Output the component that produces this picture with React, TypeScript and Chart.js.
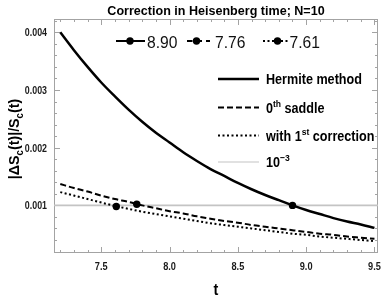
import React, { useEffect, useRef } from 'react';
import { Chart, registerables } from 'chart.js';

Chart.register(...registerables);

// ---------- data ----------
const T = [7.2, 7.3, 7.4, 7.5, 7.6, 7.7, 7.8, 7.9, 8.0, 8.1, 8.2, 8.3, 8.4, 8.5, 8.6, 8.7, 8.8, 8.9, 9.0, 9.1, 9.2, 9.3, 9.4, 9.5];
const HERMITE = [0.004, 0.00369, 0.0034, 0.00313, 0.00289, 0.00266, 0.00245, 0.00226, 0.00209, 0.00192, 0.00177, 0.00163, 0.00151, 0.00139, 0.00128, 0.00118, 0.00109, 0.001, 0.00092, 0.00085, 0.00078, 0.00072, 0.00067, 0.00061];
const SADDLE0 = [0.00137, 0.0013, 0.00124, 0.00117, 0.00111, 0.00106, 0.001, 0.00095, 0.0009, 0.00086, 0.00081, 0.00077, 0.00073, 0.0007, 0.00066, 0.00063, 0.0006, 0.00057, 0.00054, 0.00051, 0.00049, 0.00046, 0.00044, 0.00042];
const CORR1 = [0.00123, 0.00117, 0.00111, 0.00105, 0.00099, 0.00094, 0.00089, 0.00085, 0.00081, 0.00077, 0.00073, 0.00069, 0.00066, 0.00063, 0.0006, 0.00057, 0.00054, 0.00051, 0.00049, 0.00046, 0.00044, 0.00042, 0.0004, 0.00038];
const REF_T = [7.0, 9.7];
const REF_Y = [0.001, 0.001];
const MARK_T = [8.9, 7.76, 7.61];
const MARK_Y = [0.001, 0.00102, 0.00098];
const MARK_LABELS = ['8.90', '7.76', '7.61'];

const TITLE = 'Correction in Heisenberg time; N=10';
const X_TITLE = 't';

const X_MIN = 7.154;
const X_MAX = 9.526;
const Y_MIN = 0.000175;
const Y_MAX = 0.00423;

const X_TICKS = [7.5, 8.0, 8.5, 9.0, 9.5];
const X_TICK_LABELS = ['7.5', '8.0', '8.5', '9.0', '9.5'];
const X_MINOR = [7.2, 7.3, 7.4, 7.6, 7.7, 7.8, 7.9, 8.1, 8.2, 8.3, 8.4, 8.6, 8.7, 8.8, 8.9, 9.1, 9.2, 9.3, 9.4];
const Y_TICKS = [0.001, 0.002, 0.003, 0.004];
const Y_TICK_LABELS = ['0.001', '0.002', '0.003', '0.004'];
const Y_MINOR = [0.0002, 0.0004, 0.0006, 0.0008, 0.0012, 0.0014, 0.0016, 0.0018, 0.0022, 0.0024, 0.0026, 0.0028, 0.0032, 0.0034, 0.0036, 0.0038, 0.0042];

// ---------- styles ----------
const FAM = '"Liberation Sans", Arial, sans-serif';
const BLACK = '#000000';
const FRAME = '#a3a3a3';
const REF_COLOR = '#c4c4c4';
const DASH_SADDLE = [6, 3];
const DASH_CORR = [2, 2.5];

type Seg = { t: string; s?: 'sub' | 'sup' };

function drawRich(ctx: CanvasRenderingContext2D, segs: Seg[], x: number, y: number, size: number, weight: string, align: 'left' | 'center' | 'right', sx = 1) {
  const fontFor = (s?: string) => `${weight} ${s ? size * 0.68 : size}px ${FAM}`;
  let w = 0;
  for (const g of segs) {
    ctx.font = fontFor(g.s);
    w += ctx.measureText(g.t).width;
  }
  w *= sx;
  const x0 = align === 'center' ? x - w / 2 : align === 'right' ? x - w : x;
  ctx.save();
  ctx.translate(x0, y);
  ctx.scale(sx, 1);
  ctx.textAlign = 'left';
  ctx.textBaseline = 'alphabetic';
  let cx = 0;
  for (const g of segs) {
    ctx.font = fontFor(g.s);
    const dy = g.s === 'sub' ? size * 0.28 : g.s === 'sup' ? -size * 0.4 : 0;
    ctx.fillText(g.t, cx, dy);
    cx += ctx.measureText(g.t).width;
  }
  ctx.restore();
}

const LEGEND_ROWS: { segs: Seg[]; color: string; width: number; dash: number[] }[] = [
  { segs: [{ t: 'Hermite method' }], color: BLACK, width: 2.5, dash: [] },
  { segs: [{ t: '0' }, { t: 'th', s: 'sup' }, { t: ' saddle' }], color: BLACK, width: 2, dash: DASH_SADDLE },
  { segs: [{ t: 'with 1' }, { t: 'st', s: 'sup' }, { t: ' correction' }], color: BLACK, width: 2, dash: DASH_CORR },
  { segs: [{ t: '10' }, { t: '\u22123', s: 'sup' }], color: REF_COLOR, width: 1.2, dash: [] },
];

const decorPlugin = {
  id: 'decor',
  beforeDatasetsDraw(chart: any) {
    const { ctx, chartArea: ca, scales } = chart;
    const x = scales.x;
    const y = scales.y;
    ctx.save();
    ctx.strokeStyle = FRAME;
    ctx.lineWidth = 1;
    ctx.strokeRect(ca.left + 0.5, ca.top + 0.5, ca.right - ca.left - 1, ca.bottom - ca.top - 1);
    const tick = (x0: number, y0: number, x1: number, y1: number) => {
      ctx.beginPath();
      ctx.moveTo(x0, y0);
      ctx.lineTo(x1, y1);
      ctx.stroke();
    };
    const drawX = (vals: number[], len: number) => {
      for (const v of vals) {
        const px = Math.round(x.getPixelForValue(v)) + 0.5;
        tick(px, ca.bottom, px, ca.bottom - len);
        tick(px, ca.top, px, ca.top + len);
      }
    };
    const drawY = (vals: number[], len: number) => {
      for (const v of vals) {
        const py = Math.round(y.getPixelForValue(v)) + 0.5;
        if (py < ca.top || py > ca.bottom) continue;
        tick(ca.left, py, ca.left + len, py);
        tick(ca.right, py, ca.right - len, py);
      }
    };
    drawX(X_TICKS, 6);
    drawX(X_MINOR, 3);
    drawY(Y_TICKS, 6);
    drawY(Y_MINOR, 3);
    ctx.restore();
  },
  afterDraw(chart: any) {
    const { ctx, chartArea: ca, scales } = chart;
    const x = scales.x;
    const y = scales.y;
    ctx.save();
    ctx.fillStyle = '#1a1a1a';
    // tick labels
    Y_TICKS.forEach((v, i) => {
      drawRich(ctx, [{ t: Y_TICK_LABELS[i] }], ca.left - 7, y.getPixelForValue(v) + 4, 11.5, 'bold', 'right', 0.77);
    });
    X_TICKS.forEach((v, i) => {
      drawRich(ctx, [{ t: X_TICK_LABELS[i] }], x.getPixelForValue(v), ca.bottom + 17, 11.5, 'bold', 'center', 0.8);
    });
    // title
    ctx.fillStyle = BLACK;
    drawRich(ctx, [{ t: TITLE }], (ca.left + ca.right) / 2, 14.5, 13.5, 'bold', 'center', 0.93);
    // x title
    drawRich(ctx, [{ t: X_TITLE }], (ca.left + ca.right) / 2, 295, 16, 'bold', 'center', 0.9);
    // y title
    ctx.save();
    ctx.translate(18.5, (ca.top + ca.bottom) / 2 + 3);
    ctx.rotate(-Math.PI / 2);
    drawRich(ctx, [{ t: '|\u0394S' }, { t: 'c', s: 'sub' }, { t: '(t)|/S' }, { t: 'c', s: 'sub' }, { t: '(t)' }], 0, 0, 15, 'bold', 'center', 0.95);
    ctx.restore();

    // top point legend
    const items = [
      { x0: 116, x1: 145, dot: 130, tx: 147, dash: [] as number[], w: 2 },
      { x0: 187, x1: 210, dot: 196.5, tx: 215, dash: [5.5, 4], w: 2 },
      { x0: 263, x1: 289, dot: 277.5, tx: 289.5, dash: [2, 2.5], w: 2 },
    ];
    const ly = 41;
    items.forEach((it, i) => {
      ctx.strokeStyle = BLACK;
      ctx.lineWidth = it.w;
      ctx.setLineDash(it.dash);
      ctx.beginPath();
      ctx.moveTo(it.x0, ly);
      ctx.lineTo(it.x1, ly);
      ctx.stroke();
      ctx.setLineDash([]);
      ctx.beginPath();
      ctx.fillStyle = BLACK;
      ctx.arc(it.dot, ly, 3.7, 0, Math.PI * 2);
      ctx.fill();
      ctx.fillStyle = '#111';
      drawRich(ctx, [{ t: MARK_LABELS[i] }], it.tx, 47.5, 17, 'normal', 'left', 0.92);
    });

    // line legend
    const rowsY = [79, 107.5, 135.5, 162];
    LEGEND_ROWS.forEach((r, i) => {
      const yy = rowsY[i];
      ctx.strokeStyle = r.color;
      ctx.lineWidth = r.width;
      ctx.setLineDash(r.dash);
      ctx.beginPath();
      ctx.moveTo(218, yy);
      ctx.lineTo(259, yy);
      ctx.stroke();
      ctx.setLineDash([]);
      ctx.fillStyle = BLACK;
      drawRich(ctx, r.segs, 266, yy + 5, 14, 'bold', 'left', 0.9);
    });
    ctx.restore();
  },
};

export default function App() {
  const ref = useRef<HTMLCanvasElement | null>(null);
  useEffect(() => {
    document.body.style.margin = '0';
    const canvas = ref.current;
    if (!canvas) return;
    const pts = (xs: number[], ys: number[]) => xs.map((v, i) => ({ x: v, y: ys[i] }));
    const chart = new Chart(canvas, {
      type: 'line',
      data: {
        datasets: [
          { label: '10^-3', data: pts(REF_T, REF_Y), borderColor: REF_COLOR, borderWidth: 1.6, pointRadius: 0, order: 10 },
          { label: 'Hermite method', data: pts(T, HERMITE), borderColor: BLACK, borderWidth: 2.5, pointRadius: 0, cubicInterpolationMode: 'monotone', order: 5 },
          { label: '0th saddle', data: pts(T, SADDLE0), borderColor: BLACK, borderWidth: 2, borderDash: DASH_SADDLE, pointRadius: 0, cubicInterpolationMode: 'monotone', order: 6 },
          { label: 'with 1st correction', data: pts(T, CORR1), borderColor: BLACK, borderWidth: 2, borderDash: DASH_CORR, pointRadius: 0, cubicInterpolationMode: 'monotone', order: 7 },
          { label: 'points', data: pts(MARK_T, MARK_Y), showLine: false, pointRadius: 3.7, pointBackgroundColor: BLACK, pointBorderWidth: 0, borderColor: BLACK, order: 1 },
        ],
      } as any,
      options: {
        animation: false,
        responsive: false,
        events: [],
        layout: { padding: { top: 19, right: 4, left: 0, bottom: 0 } },
        plugins: { legend: { display: false }, title: { display: false }, tooltip: { enabled: false } },
        scales: {
          x: {
            type: 'linear',
            min: X_MIN,
            max: X_MAX,
            grid: { display: false },
            border: { display: false },
            ticks: { display: false },
            afterFit: (s: any) => { s.height = 47; },
          },
          y: {
            type: 'linear',
            min: Y_MIN,
            max: Y_MAX,
            grid: { display: false },
            border: { display: false },
            ticks: { display: false },
            afterFit: (s: any) => { s.width = 54; },
          },
        },
      } as any,
      plugins: [decorPlugin],
    });
    return () => chart.destroy();
  }, []);
  return (
    <div style={{ position: 'absolute', left: 0, top: 0, width: 382, height: 300, background: '#fff' }}>
      <canvas ref={ref} width={382} height={300} />
    </div>
  );
}
